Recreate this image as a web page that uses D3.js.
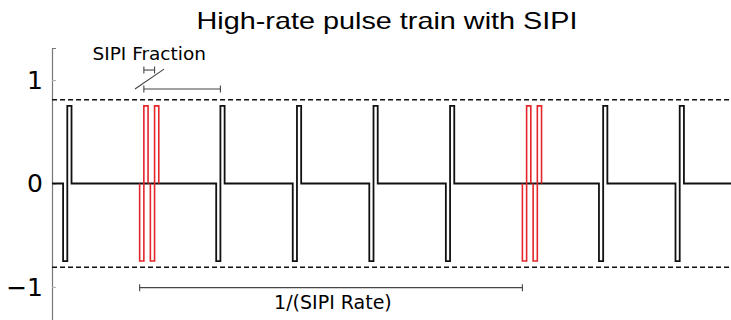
<!DOCTYPE html>
<html>
<head>
<meta charset="utf-8">
<script src="https://cdn.jsdelivr.net/npm/d3@7"></script>
<style>
  body { margin: 0; background: #fff; }
  svg { display: block; }
</style>
</head>
<body>
<div id="chart"></div>
<script>
// time is in pulse periods, amplitude in normalised units
var pulseCenters = [0.2, 2.2, 3.2, 4.2, 5.2, 7.2, 8.2];   // regular pulses
var sipiCenters  = [1.2, 1.34, 6.2, 6.34];               // SIPI pulse pairs (red)
var phaseWidth = 0.055;
var amplitude = 0.75;
var limitLevel = 0.81;
var yTicks = [-1, 0, 1];
var timeRange = [0, 8.87];
var ampRange = [-1.32, 1.31];

var width = 731, height = 320;

var svg = d3.select("#chart").append("svg")
  .attr("width", width).attr("height", height);

var x = d3.scaleLinear().domain(timeRange).range([52, 731]);
var y = d3.scaleLinear().domain(ampRange).range([320, 48]);

var line = d3.line().x(function(d){ return x(d[0]); }).y(function(d){ return y(d[1]); });

function pulse(c) {
  return [[c - phaseWidth, 0], [c - phaseWidth, -amplitude], [c, -amplitude],
          [c, amplitude], [c + phaseWidth, amplitude], [c + phaseWidth, 0]];
}

// title
svg.append("text")
  .attr("x", 387).attr("y", 29)
  .attr("text-anchor", "middle")
  .attr("textLength", 381).attr("lengthAdjust", "spacingAndGlyphs")
  .style("font-family", "Liberation Sans, Arial, sans-serif")
  .style("font-size", "24px")
  .text("High-rate pulse train with SIPI");

// y axis
var yAxis = d3.axisRight(y).tickValues(yTicks).tickSize(4).tickFormat("");
var gy = svg.append("g").attr("transform", "translate(" + x(timeRange[0]) + ",0)").call(yAxis);
gy.select(".domain").attr("stroke", "#777").attr("stroke-width", 1.2);
gy.selectAll(".tick line").attr("stroke", "#aaa");

svg.selectAll(".ylab").data(yTicks).enter().append("text")
  .attr("class", "ylab")
  .attr("x", 43).attr("y", function(d){ return y(d); })
  .attr("dy", "0.36em")
  .attr("text-anchor", "end")
  .style("font-family", "DejaVu Sans, sans-serif")
  .style("font-size", "25px")
  .text(function(d){ return d < 0 ? "\u2212" + Math.abs(d) : d; });

// dashed limits
svg.selectAll(".limit").data([limitLevel, -limitLevel]).enter().append("line")
  .attr("class", "limit")
  .attr("x1", x(timeRange[0])).attr("x2", x(timeRange[1]))
  .attr("y1", function(d){ return y(d); }).attr("y2", function(d){ return y(d); })
  .attr("stroke", "#111").attr("stroke-width", 1.4)
  .attr("stroke-dasharray", "5,3");

// regular pulse train
var pts = [[timeRange[0], 0]];
pulseCenters.forEach(function(c){ pts = pts.concat(pulse(c)); });
pts.push([timeRange[1], 0]);
svg.append("path").datum(pts)
  .attr("d", line)
  .attr("fill", "none").attr("stroke", "#111").attr("stroke-width", 1.8);

// SIPI pulses
svg.selectAll(".sipi").data(sipiCenters).enter().append("path")
  .attr("class", "sipi")
  .attr("d", function(c){ return line(pulse(c)); })
  .attr("fill", "none").attr("stroke", "#e3262b").attr("stroke-width", 1.6);

// annotations
function bracket(t1, t2, v, h) {
  var g = svg.append("g").attr("stroke", "#444").attr("stroke-width", 1.1);
  g.append("line").attr("x1", x(t1)).attr("x2", x(t2)).attr("y1", y(v)).attr("y2", y(v));
  [t1, t2].forEach(function(t){
    g.append("line").attr("x1", x(t)).attr("x2", x(t)).attr("y1", y(v) - h).attr("y2", y(v) + h);
  });
}

var sipiStart = sipiCenters[0], sipiSecond = sipiCenters[1];
bracket(sipiStart, sipiSecond, 1.097, 3.5);
bracket(sipiStart, pulseCenters[1], 0.913, 3.5);
bracket(sipiStart - phaseWidth, sipiCenters[2] - phaseWidth, -1.007, 3.5);

svg.append("line")
  .attr("x1", x(1.084)).attr("y1", y(0.913))
  .attr("x2", x(1.463)).attr("y2", y(1.106))
  .attr("stroke", "#444").attr("stroke-width", 1.1);

svg.append("text")
  .attr("x", x(1.27)).attr("y", y(1.193))
  .attr("text-anchor", "middle")
  .style("font-family", "DejaVu Sans, sans-serif")
  .style("font-size", "18.5px")
  .text("SIPI Fraction");

svg.append("text")
  .attr("x", x(3.67)).attr("y", y(-1.21))
  .attr("text-anchor", "middle")
  .style("font-family", "DejaVu Sans, sans-serif")
  .style("font-size", "19px")
  .text("1/(SIPI Rate)");
</script>
</body>
</html>
